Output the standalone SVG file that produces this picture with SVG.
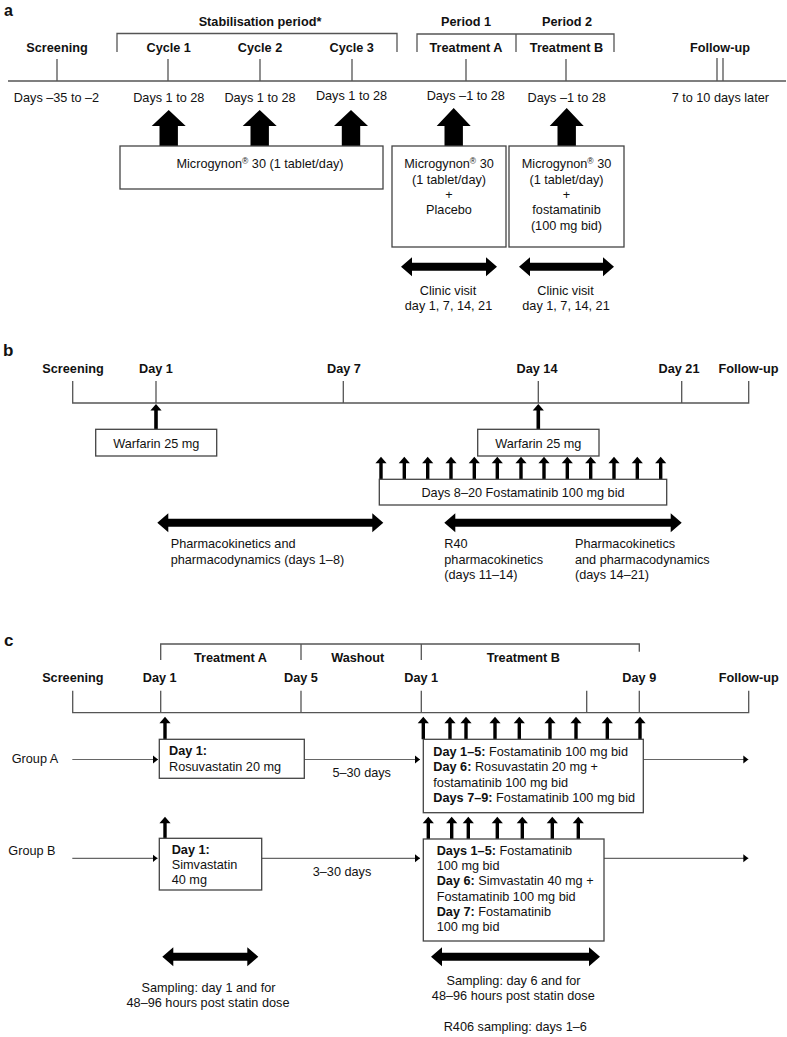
<svg xmlns="http://www.w3.org/2000/svg" width="787" height="1037" viewBox="0 0 787 1037">
<style>
text{font-family:"Liberation Sans",Arial,sans-serif;font-size:12.7px;fill:#111}
.b{font-weight:bold}
.c{text-anchor:middle}
.lab{font-weight:bold;font-size:17px}
.ln{fill:none;stroke:#555;stroke-width:1.3}
.bx{fill:#fff;stroke:#444;stroke-width:1.3}
.ar{fill:#000}
.gl{fill:none;stroke:#666;stroke-width:1.2}
</style>
<defs>
<marker id="tri" markerUnits="userSpaceOnUse" markerWidth="6" markerHeight="9" refX="5" refY="4.5" orient="auto">
<path d="M0,0.5 L5,4.5 L0,8.5 Z" fill="#000"/>
</marker>
<path id="sa" d="M0,0 L5.6,6.6 L1.7,6.6 L1.7,22.6 L-1.7,22.6 L-1.7,6.6 L-5.6,6.6 Z" fill="#000"/>
</defs>

<!-- ================= Panel a ================= -->
<g id="panel-a">
<text class="lab" x="4" y="15.5" style="font-size:16px">a</text>
<g id="a-headers">
<text class="b c" x="260" y="25.5">Stabilisation period*</text>
<text class="b c" x="466" y="25.5">Period 1</text>
<text class="b c" x="567" y="25.5">Period 2</text>
<text class="b c" x="57" y="52">Screening</text>
<text class="b c" x="168.7" y="52">Cycle 1</text>
<text class="b c" x="260" y="52">Cycle 2</text>
<text class="b c" x="351.7" y="52">Cycle 3</text>
<text class="b c" x="466" y="52">Treatment A</text>
<text class="b c" x="566.5" y="52">Treatment B</text>
<text class="b c" x="720" y="52">Follow-up</text>
</g>
<g id="a-timeline">
<path class="ln" d="M117,52 V33.5 H397 V52 M417,52 V34 H614 V52 M516,34 V52"/>
<path class="ln" d="M8,81 H786 M57,59 V81 M168,59 V81 M260,59 V81 M352,59 V81 M466,59 V81 M566,59 V81 M717,58 V81 M723,58 V81"/>
</g>
<g id="a-days">
<text class="c" x="56.5" y="101.7">Days –35 to –2</text>
<text class="c" x="168.8" y="101.7">Days 1 to 28</text>
<text class="c" x="260" y="101.7">Days 1 to 28</text>
<text class="c" x="351.5" y="99.5">Days 1 to 28</text>
<text class="c" x="465.8" y="99.5">Days –1 to 28</text>
<text class="c" x="566.7" y="101.7">Days –1 to 28</text>
<text class="c" x="720.3" y="101.7">7 to 10 days later</text>
</g>
<g id="a-block-arrows">
<path class="ar" d="M168.7,110 L185.7,126 L177.9,126 L177.9,146 L159.5,146 L159.5,126 L151.7,126 Z"/>
<path class="ar" d="M259.7,110 L276.7,126 L268.9,126 L268.9,146 L250.5,146 L250.5,126 L242.7,126 Z"/>
<path class="ar" d="M351,110 L368,126 L360.2,126 L360.2,146 L341.8,146 L341.8,126 L334,126 Z"/>
<path class="ar" d="M453.7,108 L470.7,126 L462.9,126 L462.9,146 L444.5,146 L444.5,126 L436.7,126 Z"/>
<path class="ar" d="M566.7,108 L583.7,126 L575.9,126 L575.9,146 L557.5,146 L557.5,126 L549.7,126 Z"/>
</g>
<g id="a-box-stab">
<rect class="bx" x="120" y="146" width="263" height="43"/>
<text class="c" x="260" y="168">Microgynon<tspan font-size="8.5" dy="-4">®</tspan><tspan dy="4"> 30 (1 tablet/day)</tspan></text>
</g>
<g id="a-box-A">
<rect class="bx" x="392" y="146" width="114" height="101"/>
<text class="c" x="449" y="168">Microgynon<tspan font-size="8.5" dy="-4">®</tspan><tspan dy="4"> 30</tspan></text>
<text class="c" x="449" y="183.5">(1 tablet/day)</text>
<text class="c" x="449" y="199">+</text>
<text class="c" x="449" y="214">Placebo</text>
</g>
<g id="a-box-B">
<rect class="bx" x="509" y="146" width="115" height="101"/>
<text class="c" x="566.5" y="168">Microgynon<tspan font-size="8.5" dy="-4">®</tspan><tspan dy="4"> 30</tspan></text>
<text class="c" x="566.5" y="183.5">(1 tablet/day)</text>
<text class="c" x="566.5" y="199">+</text>
<text class="c" x="566.5" y="214">fostamatinib</text>
<text class="c" x="566.5" y="229.5">(100 mg bid)</text>
</g>
<g id="a-clinic">
<path class="ar" d="M401,266.7 L412,257.2 L412,262.7 L486,262.7 L486,257.2 L497,266.7 L486,276.2 L486,270.7 L412,270.7 L412,276.2 Z"/>
<path class="ar" d="M519,266.7 L530,257.2 L530,262.7 L603,262.7 L603,257.2 L614,266.7 L603,276.2 L603,270.7 L530,270.7 L530,276.2 Z"/>
<text class="c" x="448" y="295">Clinic visit</text>
<text class="c" x="448.5" y="310">day 1, 7, 14, 21</text>
<text class="c" x="565.5" y="295">Clinic visit</text>
<text class="c" x="566" y="310">day 1, 7, 14, 21</text>
</g>
</g>

<!-- ================= Panel b ================= -->
<g id="panel-b">
<text class="lab" x="3" y="356">b</text>
<g id="b-headers">
<text class="b c" x="73" y="373.3">Screening</text>
<text class="b c" x="156" y="373.3">Day 1</text>
<text class="b c" x="344" y="373.3">Day 7</text>
<text class="b c" x="537" y="373.3">Day 14</text>
<text class="b c" x="679" y="373.3">Day 21</text>
<text class="b c" x="748.5" y="373.3">Follow-up</text>
</g>
<path class="ln" d="M72.7,381 V403 H748.7 V381 M156,381 V403 M343.3,381 V403 M538.3,381 V403 M681.7,381 V403"/>
<g id="b-warfarin-1">
<path class="ar" d="M156,404 L161.6,410.5 L157.8,410.5 L157.8,429.3 L154.2,429.3 L154.2,410.5 L150.4,410.5 Z"/>
<rect class="bx" x="95.7" y="429.3" width="121" height="26.7"/>
<text class="c" x="156.3" y="447.5">Warfarin 25 mg</text>
</g>
<g id="b-warfarin-2">
<path class="ar" d="M538.3,404 L543.9,410.5 L540.1,410.5 L540.1,429.3 L536.5,429.3 L536.5,410.5 L532.7,410.5 Z"/>
<rect class="bx" x="477.7" y="429.3" width="121.3" height="26.7"/>
<text class="c" x="538.3" y="447.5">Warfarin 25 mg</text>
</g>
<g id="b-fostamatinib">
<use href="#sa" x="381" y="456.7"/>
<use href="#sa" x="404.3" y="456.7"/>
<use href="#sa" x="427.7" y="456.7"/>
<use href="#sa" x="451" y="456.7"/>
<use href="#sa" x="474.3" y="456.7"/>
<use href="#sa" x="497.3" y="456.7"/>
<use href="#sa" x="521" y="456.7"/>
<use href="#sa" x="544" y="456.7"/>
<use href="#sa" x="567.3" y="456.7"/>
<use href="#sa" x="590.7" y="456.7"/>
<use href="#sa" x="614" y="456.7"/>
<use href="#sa" x="637.3" y="456.7"/>
<use href="#sa" x="660.7" y="456.7"/>
<rect class="bx" x="379.3" y="479.3" width="287.4" height="25.7"/>
<text class="c" x="523" y="496.5">Days 8–20 Fostamatinib 100 mg bid</text>
</g>
<g id="b-pk">
<path class="ar" d="M157.3,522.7 L168.3,513.2 L168.3,518.7 L372.3,518.7 L372.3,513.2 L383.3,522.7 L372.3,532.2 L372.3,526.7 L168.3,526.7 L168.3,532.2 Z"/>
<path class="ar" d="M444.3,522.7 L455.3,513.2 L455.3,518.7 L670.7,518.7 L670.7,513.2 L681.7,522.7 L670.7,532.2 L670.7,526.7 L455.3,526.7 L455.3,532.2 Z"/>
<text x="170.7" y="548">Pharmacokinetics and</text>
<text x="170.7" y="563.5">pharmacodynamics (days 1–8)</text>
<text x="444.3" y="548">R40</text>
<text x="444.3" y="563.5">pharmacokinetics</text>
<text x="444.3" y="579">(days 11–14)</text>
<text x="575" y="548">Pharmacokinetics</text>
<text x="575" y="563.5">and pharmacodynamics</text>
<text x="575" y="579">(days 14–21)</text>
</g>
</g>

<!-- ================= Panel c ================= -->
<g id="panel-c">
<text class="lab" x="4" y="646">c</text>
<g id="c-headers">
<path class="ln" d="M160.7,660 V644 H639.3 V651.7 M301,644 V660 M421.3,644 V660"/>
<text class="b c" x="230.5" y="662.3">Treatment A</text>
<text class="b c" x="357.7" y="662.3">Washout</text>
<text class="b c" x="523.3" y="662.3">Treatment B</text>
<text class="b c" x="72.8" y="681.7">Screening</text>
<text class="b c" x="159.7" y="681.7">Day 1</text>
<text class="b c" x="301" y="681.7">Day 5</text>
<text class="b c" x="421.2" y="681.7">Day 1</text>
<text class="b c" x="639.3" y="681.7">Day 9</text>
<text class="b c" x="748.7" y="681.7">Follow-up</text>
</g>
<path class="ln" d="M72.7,690.7 V712.7 H748.7 V690.7 M160.7,690.7 V712.7 M301,690.7 V712.7 M421.3,690.7 V712.7 M586.7,690.7 V712.7 M639.3,690.7 V712.7"/>

<g id="c-connectors">
<path class="gl" d="M72.3,759.5 H158" marker-end="url(#tri)"/>
<path class="gl" d="M304.3,759.5 H420" marker-end="url(#tri)"/>
<path class="gl" d="M643.3,759.5 H748.3" marker-end="url(#tri)"/>
<path class="gl" d="M72.3,858.3 H157.5" marker-end="url(#tri)"/>
<path class="gl" d="M261.7,858.3 H420" marker-end="url(#tri)"/>
<path class="gl" d="M604,858.3 H748.3" marker-end="url(#tri)"/>
</g>

<text x="11.7" y="763">Group A</text>
<text class="c" x="361.7" y="776.7">5–30 days</text>
<text x="8.3" y="855">Group B</text>
<text class="c" x="342" y="876">3–30 days</text>

<g id="c-A1">
<use href="#sa" x="165" y="716.7"/>
<rect class="bx" x="159.3" y="739.3" width="145" height="39"/>
<text class="b" x="169" y="755">Day 1:</text>
<text x="169" y="771">Rosuvastatin 20 mg</text>
</g>
<g id="c-A2">
<use href="#sa" x="423.3" y="716.7"/>
<use href="#sa" x="450" y="716.7"/>
<use href="#sa" x="466" y="716.7"/>
<use href="#sa" x="495" y="716.7"/>
<use href="#sa" x="519.3" y="716.7"/>
<use href="#sa" x="550" y="716.7"/>
<use href="#sa" x="576" y="716.7"/>
<use href="#sa" x="607.3" y="716.7"/>
<use href="#sa" x="640" y="716.7"/>
<rect class="bx" x="423.3" y="739.3" width="220" height="73.4"/>
<text x="433.3" y="755.5"><tspan class="b">Day 1–5:</tspan> Fostamatinib 100 mg bid</text>
<text x="433.3" y="771"><tspan class="b">Day 6:</tspan> Rosuvastatin 20 mg +</text>
<text x="433.3" y="786.5">fostamatinib 100 mg bid</text>
<text x="433.3" y="802"><tspan class="b">Days 7–9:</tspan> Fostamatinib 100 mg bid</text>
</g>
<g id="c-B1">
<use href="#sa" x="165" y="816.7"/>
<rect class="bx" x="159.3" y="838.3" width="102.4" height="51.7"/>
<text class="b" x="171.7" y="854.3">Day 1:</text>
<text x="171.7" y="869">Simvastatin</text>
<text x="171.7" y="884.3">40 mg</text>
</g>
<g id="c-B2">
<use href="#sa" x="428.3" y="816.7"/>
<use href="#sa" x="451.7" y="816.7"/>
<use href="#sa" x="468.3" y="816.7"/>
<use href="#sa" x="497.3" y="816.7"/>
<use href="#sa" x="522.3" y="816.7"/>
<use href="#sa" x="552.3" y="816.7"/>
<use href="#sa" x="578.3" y="816.7"/>
<rect class="bx" x="423.3" y="839" width="180.7" height="102"/>
<text x="436.7" y="854.5"><tspan class="b">Days 1–5:</tspan> Fostamatinib</text>
<text x="436.7" y="869.5">100 mg bid</text>
<text x="436.7" y="885"><tspan class="b">Day 6:</tspan> Simvastatin 40 mg +</text>
<text x="436.7" y="900.5">Fostamatinib 100 mg bid</text>
<text x="436.7" y="915.5"><tspan class="b">Day 7:</tspan> Fostamatinib</text>
<text x="436.7" y="931">100 mg bid</text>
</g>
<g id="c-sampling">
<path class="ar" d="M162.3,956.7 L173.3,947.2 L173.3,952.7 L247.3,952.7 L247.3,947.2 L258.3,956.7 L247.3,966.2 L247.3,960.7 L173.3,960.7 L173.3,966.2 Z"/>
<path class="ar" d="M431,956.7 L442,947.2 L442,952.7 L589,952.7 L589,947.2 L600,956.7 L589,966.2 L589,960.7 L442,960.7 L442,966.2 Z"/>
<text class="c" x="208.5" y="991.7">Sampling: day 1 and for</text>
<text class="c" x="208" y="1006.7">48–96 hours post statin dose</text>
<text class="c" x="513.5" y="985">Sampling: day 6 and for</text>
<text class="c" x="513.3" y="1000">48–96 hours post statin dose</text>
<text class="c" x="515.3" y="1030.7">R406 sampling: days 1–6</text>
</g>
</g>
</svg>
